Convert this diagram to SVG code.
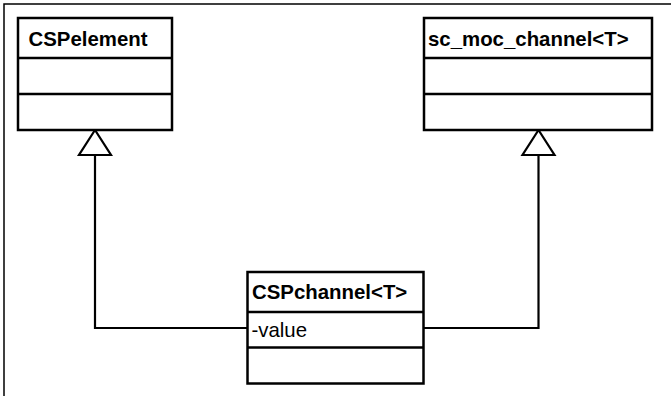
<svg xmlns="http://www.w3.org/2000/svg" width="671" height="396" viewBox="0 0 671 396">
<style>
.box{fill:#fff;stroke:#000;stroke-width:2.5}
.div{stroke:#000;stroke-width:2.5}
.con{fill:none;stroke:#000;stroke-width:2.2}
.tri{fill:#fff;stroke:#000;stroke-width:2.2;stroke-linejoin:miter}
.t{font-family:"Liberation Sans",Arial,Helvetica,sans-serif;font-size:20.4px;fill:#000}
.b{font-weight:bold}
</style>
<rect width="671" height="396" fill="#fff"/>
<path d="M4,396 V4 H671" fill="none" stroke="#000" stroke-width="1.5"/>
<g id="connectors">
<path class="con" d="M247.5,328 H95 V155"/>
<polygon class="tri" points="95,130 79,155 111,155"/>
<path class="con" d="M423.5,328 H538.5 V155"/>
<polygon class="tri" points="538.5,130 522.5,155 554.5,155"/>
</g>
<g id="CSPelement">
<rect class="box" x="18" y="18" width="154" height="112"/>
<line class="div" x1="18" y1="58" x2="172" y2="58"/>
<line class="div" x1="18" y1="94" x2="172" y2="94"/>
<text class="t b" x="28.5" y="45.5">CSPelement</text>
</g>
<g id="sc_moc_channel">
<rect class="box" x="424" y="18" width="228" height="112"/>
<line class="div" x1="424" y1="58" x2="652" y2="58"/>
<line class="div" x1="424" y1="94" x2="652" y2="94"/>
<text class="t b" x="428" y="45.5">sc_moc_channel&lt;T&gt;</text>
</g>
<g id="CSPchannel">
<rect class="box" x="247.5" y="272" width="176" height="111.5"/>
<line class="div" x1="247.5" y1="312" x2="423.5" y2="312"/>
<line class="div" x1="247.5" y1="347.5" x2="423.5" y2="347.5"/>
<text class="t b" x="252" y="298.5">CSPchannel&lt;T&gt;</text>
<text class="t" x="251.5" y="337">-value</text>
</g>
</svg>
